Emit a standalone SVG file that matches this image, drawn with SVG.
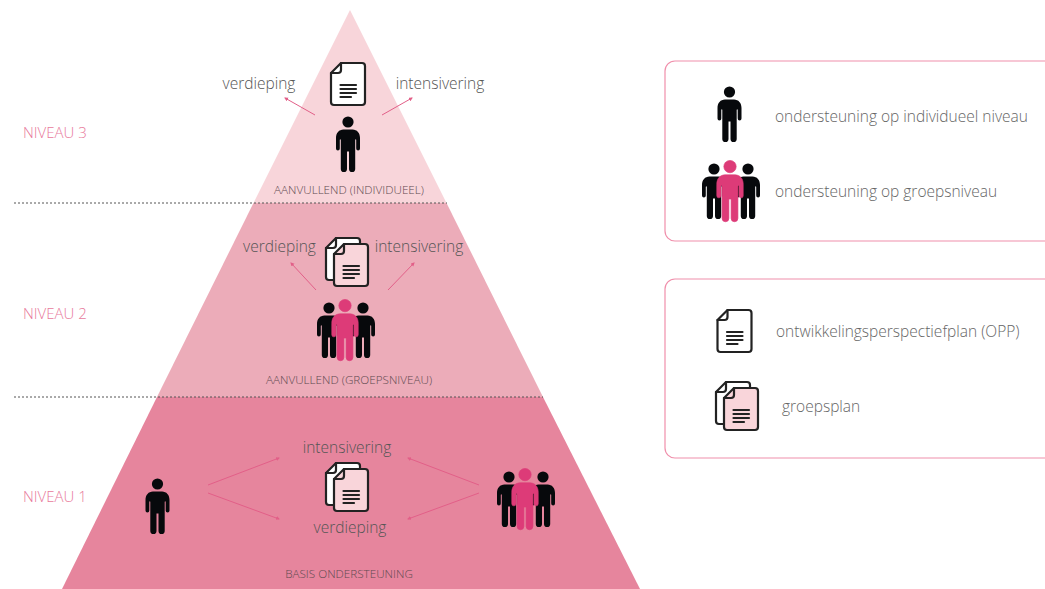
<svg xmlns="http://www.w3.org/2000/svg" xmlns:xlink="http://www.w3.org/1999/xlink" width="1045" height="589" viewBox="0 0 1045 589">
<style>
text{font-family:"Open Sans","Liberation Sans",sans-serif;font-weight:300;fill:#555}
.lbl{font-size:15.5px}
.leg{font-size:15.500px;fill:#666}
.niv{font-size:15px;fill:#e8799b}
.cap{font-size:11.700px;text-anchor:middle;fill:#5f4a50}
.mid{text-anchor:middle}
.dot{stroke:#555;stroke-width:1;stroke-dasharray:2 2;fill:none}
.arr{stroke:#e25f88;stroke-width:1;fill:none;marker-end:url(#ah)}
.box{fill:#fff;stroke:#f08fab;stroke-width:1.2}
.dl{stroke:#222;stroke-width:2.200;fill:none;stroke-linejoin:round;stroke-linecap:round}
.pb{fill:#07090c}
.pp{fill:#dd3b78}
</style>
<defs>
<marker id="ah" markerWidth="5" markerHeight="5" refX="3" refY="2" orient="auto" markerUnits="userSpaceOnUse"><path d="M0 0L4 2L0 4Z" fill="#e25f88"/></marker>
<symbol id="person" overflow="visible" viewBox="-13 0 26 56" width="26" height="56" x="-13">
<circle cx="0" cy="6" r="5.6"/>
<path d="M-4.500 13.500H4.500C9 13.500 12 17 12 22V32.500A1.900 1.900 0 0 1 8.200 32.500V24C8.200 23 7.200 23 7.200 24V53A3.100 3.100 0 0 1 1 53V35.500H-1V53A3.100 3.100 0 0 1-7.200 53V24C-7.200 23-8.200 23-8.200 24V32.500A1.900 1.900 0 0 1-12 32.500V22C-12 17-9 13.500-4.500 13.500Z"/>
</symbol>
<g id="doc">
<path class="dl" style="fill:inherit" d="M11 1H32A3 3 0 0 1 35 4V40A3 3 0 0 1 32 43H4A3 3 0 0 1 1 40V11Z"/>
<path class="dl" d="M11 1V8A3 3 0 0 1 8 11H1"/>
<path class="dl" d="M10.500 23H26M10.500 27H26M10.500 31H26M10.500 35H21"/>
</g>
<g id="doc2">
<use href="#doc" x="-8" y="-6" style="fill:#fff"/>
<use href="#doc" style="fill:#f9d5da"/>
</g>
<g id="group">
<use href="#person" x="-16" y="3" class="pb"/>
<use href="#person" x="18" y="3" class="pb"/>
<g transform="scale(1.1)" class="pp" stroke="#dd3b78" stroke-width=".6"><use href="#person"/></g>
</g>
</defs>

<g id="level-1"><path d="M157 397H543L640 589H62Z" fill="#e6859d"/></g>
<g id="level-2"><path d="M253.500 203H446.500L543 397H157Z" fill="#ecacb9"/></g>
<g id="level-3"><path d="M350 10L446.500 203H253.500Z" fill="#f8d5da"/></g>

<g id="separators">
<path class="dot" d="M14 203H447"/>
<path class="dot" d="M14 397H543"/>
</g>

<g id="connectors">
<path class="arr" d="M315 115L285 98"/>
<path class="arr" d="M382 115L412 98"/>
<path class="arr" d="M316 290L291 263"/>
<path class="arr" d="M388 290L414 263"/>
<path class="arr" d="M208 485L279 458"/>
<path class="arr" d="M208 493L279 519"/>
<path class="arr" d="M479 485L408 458"/>
<path class="arr" d="M479 493L408 519"/>
</g>

<g id="niveau-labels">
<text class="niv" x="23" y="138">NIVEAU 3</text>
<text class="niv" x="23" y="319">NIVEAU 2</text>
<text class="niv" x="23" y="502">NIVEAU 1</text>
</g>

<g id="node-niveau-3">
<use href="#doc" x="330" y="62" style="fill:#fff"/>
<use href="#person" x="348" y="116" class="pb"/>
<text class="lbl mid" x="259" y="89">verdieping</text>
<text class="lbl mid" x="440" y="89">intensivering</text>
<text class="cap" x="349" y="194">AANVULLEND (INDIVIDUEEL)</text>
</g>

<g id="node-niveau-2">
<use href="#doc2" x="333" y="243"/>
<use href="#group" x="345" y="299"/>
<text class="lbl mid" x="279.500" y="252">verdieping</text>
<text class="lbl mid" x="419" y="252">intensivering</text>
<text class="cap" x="349" y="384">AANVULLEND (GROEPSNIVEAU)</text>
</g>

<g id="node-niveau-1">
<use href="#doc2" x="333" y="468"/>
<use href="#person" x="157.500" y="478" class="pb"/>
<use href="#group" x="525" y="468"/>
<text class="lbl mid" x="347" y="453">intensivering</text>
<text class="lbl mid" x="350" y="533">verdieping</text>
<text class="cap" x="349" y="578">BASIS ONDERSTEUNING</text>
</g>

<g id="legend-support">
<rect class="box" x="665" y="61" width="420" height="180" rx="10"/>
<use href="#person" x="729.500" y="86" class="pb"/>
<use href="#group" x="730" y="160"/>
<text class="leg" x="775" y="122">ondersteuning op individueel niveau</text>
<text class="leg" x="775" y="197">ondersteuning op groepsniveau</text>
</g>

<g id="legend-plans">
<rect class="box" x="665" y="279" width="420" height="179" rx="10"/>
<use href="#doc" x="716.500" y="309" style="fill:#fff"/>
<use href="#doc2" x="723" y="387"/>
<text class="leg" x="776" y="337">ontwikkelingsperspectiefplan (OPP)</text>
<text class="leg" x="782" y="412">groepsplan</text>
</g>
</svg>
